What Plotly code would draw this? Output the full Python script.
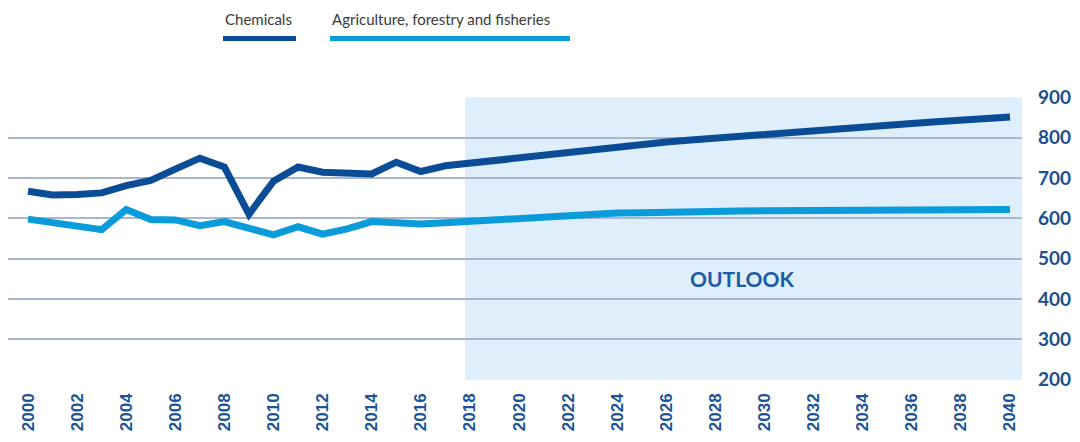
import plotly.graph_objects as go

# Annual series, 2000-2040 (history to 2018, outlook after)
years = list(range(2000, 2041))

chemicals = [667, 658, 659, 663, 681, 694, 722, 749, 727, 610,
             692, 727, 714, 710, 710, 739, 716, 730, 737, 744,
             751, 758, 765, 771, 777, 783, 789, 794, 799, 804,
             809, 813, 818, 822, 826, 830, 835, 839, 843, 847, 851]

agriculture = [598, 590, 584, 572, 622, 597, 596, 582, 592, 574,
               559, 579, 561, 574, 592, 589, 586, 589, 593, 597,
               601, 605, 608, 611, 613, 614, 616, 617, 618, 618,
               619, 619, 620, 620, 620, 621, 621, 621, 621, 622, 622]

series_names = ["Chemicals", "Agriculture, forestry and fisheries"]
series_colors = ["#0B4C97", "#0A9BDA"]

y_ticks = [200, 300, 400, 500, 600, 700, 800, 900]
x_ticks = list(range(2000, 2041, 2))

outlook_start = 2017.8
outlook_label = "OUTLOOK"

fig = go.Figure()

# outlook shading band
fig.add_shape(type="rect", xref="x", yref="y",
              x0=outlook_start, x1=2040.49, y0=200, y1=900,
              fillcolor="#DEEEFB", line_width=0, layer="below")

fig.add_trace(go.Scatter(x=years, y=agriculture, mode="lines",
                         name=series_names[1],
                         line=dict(color=series_colors[1], width=7)))
fig.add_trace(go.Scatter(x=years, y=chemicals, mode="lines",
                         name=series_names[0],
                         line=dict(color=series_colors[0], width=7)))

fig.add_annotation(x=2029.1, y=452, xref="x", yref="y", text=outlook_label,
                   showarrow=False,
                   font=dict(family="Lato", size=21, color="#1C5BA5", weight="bold"))

# legend drawn above the plot: label with a coloured bar underneath
legend_items = [(series_names[0], series_colors[0], 223, 296),
                (series_names[1], series_colors[1], 330, 570)]
for text, col, px0, px1 in legend_items:
    fig.add_shape(type="line", xref="paper", yref="paper",
                  x0=(px0 - 8) / 1014, x1=(px1 - 8) / 1014,
                  y0=(380 - 39) / 282.5, y1=(380 - 39) / 282.5,
                  line=dict(color=col, width=5))
    fig.add_annotation(x=(px0 - 8) / 1014, y=(380 - 20) / 282.5,
                       xref="paper", yref="paper", text=text,
                       showarrow=False, xanchor="left", yanchor="middle",
                       font=dict(family="Lato", size=15, color="#3A3A3A"))

fig.update_layout(
    width=1080, height=442,
    margin=dict(l=8, r=58, t=97, b=62),
    paper_bgcolor="white", plot_bgcolor="white",
    showlegend=False,
    xaxis=dict(range=[1999.185, 2040.49], tickvals=x_ticks,
               ticktext=[str(v) for v in x_ticks], tickangle=-90,
               showgrid=False, zeroline=False, showline=False,
               ticks="", ticklabelstandoff=9,
               tickfont=dict(family="Liberation Sans", size=17,
                             color="#1D5496", weight="bold")),
    yaxis=dict(range=[199.5, 900.5], tickvals=y_ticks, side="right",
               showgrid=True, gridcolor="#AAB6C9", gridwidth=1.5,
               zeroline=False, showline=False, ticks="",
               ticklabelstandoff=15,
               tickfont=dict(family="Lato", size=19,
                             color="#1B4F8E", weight="bold")),
)

fig.write_html("out.html")
